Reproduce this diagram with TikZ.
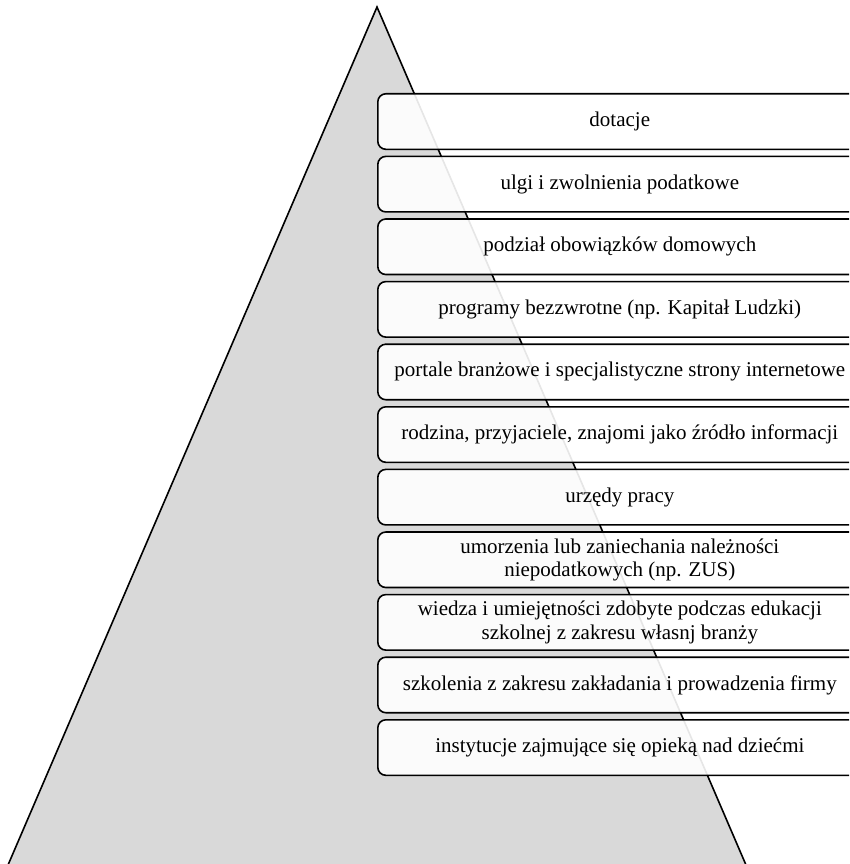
\documentclass[tikz,border=0pt]{standalone}
\usepackage{fontspec}
\setmainfont{Liberation Serif}
\begin{document}
\begin{tikzpicture}[x=1pt,y=-1pt,
  tri/.style={fill={rgb,255:red,217;green,217;blue,217}, draw=black, line width=1.6pt, line join=miter},
  bar/.style={draw=black, line width=1.6pt, fill=white, fill opacity=0.9, text opacity=1,
    rounded corners=8pt, minimum width=484pt, minimum height=55.5pt, anchor=north west,
    align=center, inner sep=0pt, font=\fontsize{21}{23.5}\selectfont}]
\useasboundingbox (0,0) rectangle (849,864);
\clip (0,0) rectangle (849,864);
\coordinate (apex) at (377,7);
\coordinate (bl) at (5,872);
\coordinate (br) at (749,872);
\draw[tri] (apex) -- (bl) -- (br) -- cycle;
\node[bar] (b1) at (377,93.0) {dotacje};
\node[bar] (b2) at (377,155.6) {ulgi i zwolnienia podatkowe};
\node[bar] (b3) at (377,218.2) {podział obowiązków domowych};
\node[bar] (b4) at (377,280.8) {programy bezzwrotne (np. Kapitał Ludzki)};
\node[bar] (b5) at (377,343.4) {portale branżowe i specjalistyczne strony internetowe};
\node[bar] (b6) at (377,406.0) {rodzina, przyjaciele, znajomi jako źródło informacji};
\node[bar] (b7) at (377,468.6) {urzędy pracy};
\node[bar] (b8) at (377,531.2) {umorzenia lub zaniechania należności\\niepodatkowych (np. ZUS)};
\node[bar] (b9) at (377,593.8) {wiedza i umiejętności zdobyte podczas edukacji\\szkolnej z zakresu własnj branży};
\node[bar] (b10) at (377,656.4) {szkolenia z zakresu zakładania i prowadzenia firmy};
\node[bar] (b11) at (377,719.0) {instytucje zajmujące się opieką nad dziećmi};
\end{tikzpicture}
\end{document}
